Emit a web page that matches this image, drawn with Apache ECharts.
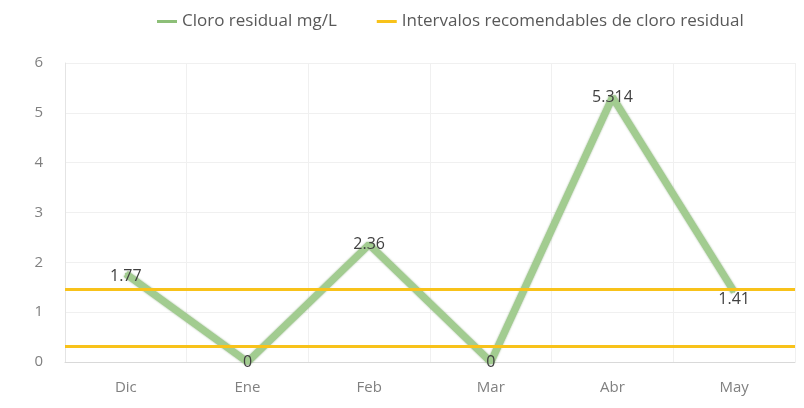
<!DOCTYPE html>
<html><head><meta charset="utf-8">
<script src="https://cdn.jsdelivr.net/npm/echarts@6/dist/echarts.min.js"></script>
<style>html,body{margin:0;padding:0;background:#fff}#c{width:804px;height:408px}</style>
</head><body><div id="c"></div>
<script>
const categories = ['Dic','Ene','Feb','Mar','Abr','May'];
const cloro = [1.77, 0, 2.36, 0, 5.314, 1.41];
const intervalos = [0.31, 1.46];
const seriesNames = ['Cloro residual mg/L', 'Intervalos recomendables de cloro residual'];
const yTicks = [0, 1, 2, 3, 4, 5, 6];

const font = '"Open Sans", "Liberation Sans", sans-serif';
const chart = echarts.init(document.getElementById('c'));
chart.setOption({
  animation: false,
  textStyle: { fontFamily: font },
  legend: {
    top: 8, left: 152, itemGap: 40, itemWidth: 20, itemHeight: 3,
    icon: 'rect',
    textStyle: { fontFamily: font, fontSize: 17, color: '#595959' },
    data: [
      { name: seriesNames[0], itemStyle: { color: '#8dbf78', opacity: 1 } },
      { name: seriesNames[1], itemStyle: { color: '#f8c21a', opacity: 1 } }
    ]
  },
  grid: { left: 65, right: 9, top: 63, bottom: 46 },
  xAxis: {
    type: 'category', data: categories, boundaryGap: true,
    axisLine: { lineStyle: { color: '#d9d9d9' } },
    axisTick: { show: false },
    axisLabel: { color: '#808080', fontSize: 15, margin: 18, fontFamily: font },
    splitLine: { show: true, lineStyle: { color: '#f0f0f0' } }
  },
  yAxis: {
    type: 'value', min: yTicks[0], max: yTicks[yTicks.length - 1], interval: 1,
    axisLine: { show: true, lineStyle: { color: '#e4e4e4' } },
    axisTick: { show: false },
    axisLabel: { color: '#808080', fontSize: 15, margin: 22, fontFamily: font },
    splitLine: { lineStyle: { color: '#f0f0f0' } }
  },
  series: [
    {
      name: seriesNames[0], type: 'line',
      symbol: 'circle', symbolSize: 2, showSymbol: true,
      itemStyle: { color: '#a2cc90', borderWidth: 0 },
      lineStyle: { width: 7, color: '#a2cc90', shadowColor: 'rgba(90,140,70,0.7)', shadowBlur: 2 },
      label: {
        show: true, position: 'inside', color: '#404040', fontSize: 16, fontFamily: font, opacity: 1,
        formatter: p => String(p.value)
      },
      data: cloro.map((v, i) => ({
        value: v,
        label: { show: true, offset: i === 5 ? [0, 8] : (i === 0 ? [0, 3] : [0, 0]) }
      })),
      z: 3
    },
    {
      name: seriesNames[1], type: 'line', data: [], color: '#f8c21a',
      markLine: {
        silent: true, symbol: 'none', label: { show: false },
        lineStyle: { color: '#f8c21a', width: 3, type: 'solid' },
        data: intervalos.map(v => ({ yAxis: v }))
      },
      z: 2
    }
  ]
});
</script></body></html>
